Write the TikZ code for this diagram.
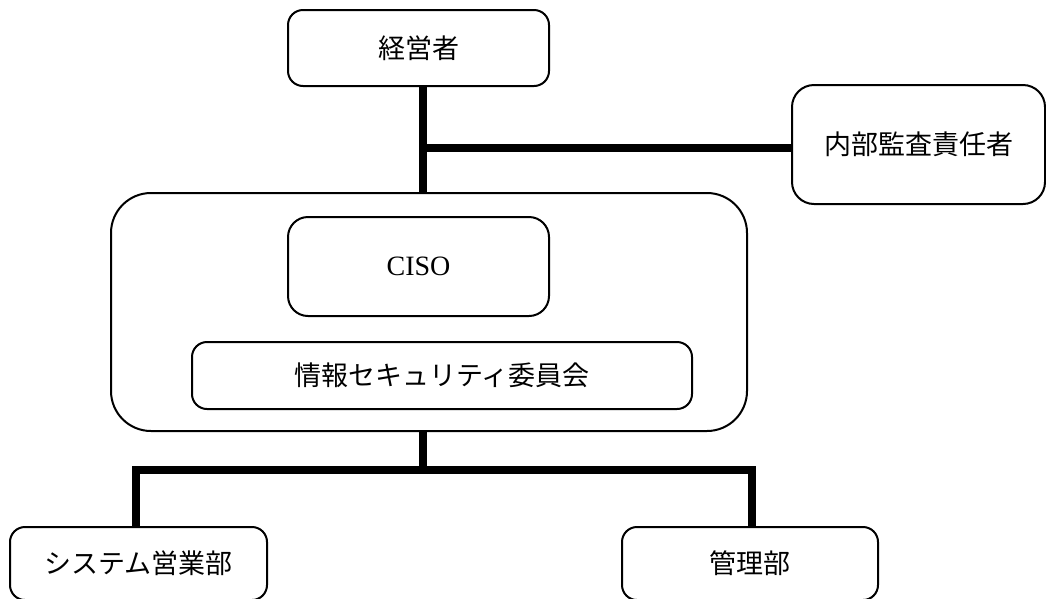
\documentclass[tikz,border=0pt]{standalone}
\usepackage{fontspec}
\setmainfont{Liberation Serif}
\newfontfamily\jp{Noto Sans CJK JP}
\begin{document}
\begin{tikzpicture}[x=1pt,y=-1pt,
  box/.style={draw=black, line width=2pt, fill=white, inner sep=0pt, font=\jp\fontsize{27}{30}\selectfont},
  link/.style={draw=black, line width=7.5pt, line join=miter}]
\useasboundingbox (0,0) rectangle (1046,598);
% nodes
\node[box, rounded corners=40pt, minimum width=636pt, minimum height=238pt] (grp) at (429,312) {};
\node[box, rounded corners=20pt, minimum width=261pt, minimum height=99pt, font=\fontsize{28}{30}\selectfont] (ciso) at (418.5,266.5) {CISO};
\node[box, rounded corners=15pt, minimum width=500pt, minimum height=67pt] (iin) at (442,375.5) {情報セキュリティ委員会};
\node[box, rounded corners=15pt, minimum width=261pt, minimum height=76pt] (keiei) at (418.5,48) {経営者};
\node[box, rounded corners=22pt, minimum width=253pt, minimum height=119pt] (naibu) at (918.5,144.5) {内部監査責任者};
\node[box, rounded corners=15pt, minimum width=257pt, minimum height=73pt] (sys) at (138.5,563.5) {システム営業部};
\node[box, rounded corners=15pt, minimum width=256pt, minimum height=73pt] (kanri) at (750,563.5) {管理部};
% junctions
\coordinate (j1) at (423,148);
\coordinate (j2) at (423,470);
\coordinate (jl) at (136,470);
\coordinate (jr) at (752,470);
% connectors
\draw[link] (keiei.south -| j1) -- (grp.north -| j1);
\draw[link] (j1) -- (naibu.west |- j1);
\draw[link] (grp.south -| j2) -- (j2);
\draw[link] (sys.north -| jl) -- (jl) -- (jr) -- (kanri.north -| jr);
\end{tikzpicture}
\end{document}
